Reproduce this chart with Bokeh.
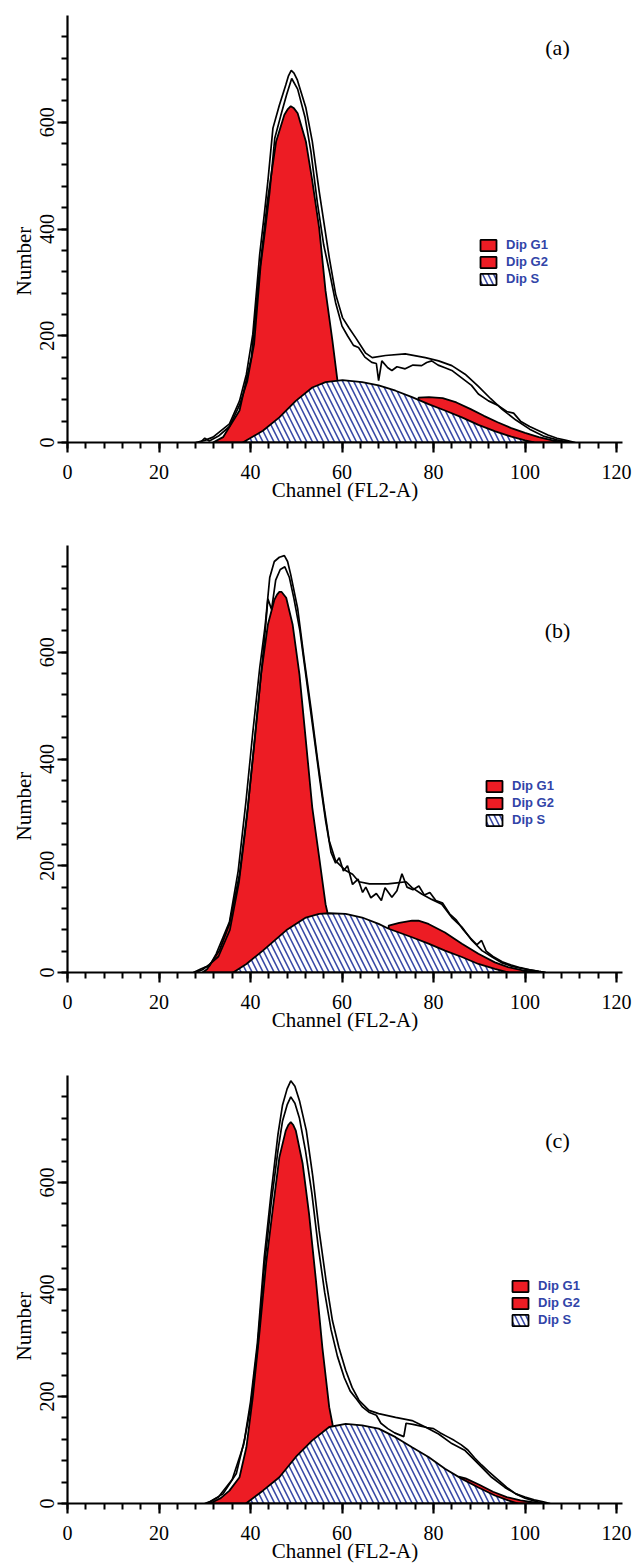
from bokeh.plotting import figure
from bokeh.layouts import column
from bokeh.models import FixedTicker, Legend, LegendItem, Label, Title
from bokeh.embed import file_html
from bokeh.resources import INLINE

# ---------------- axis ticks / labels ----------------
X_MAJOR = [0, 20, 40, 60, 80, 100, 120]
X_MINOR = list(range(0, 121, 4))
Y_MAJOR = [0, 200, 400, 600]
Y_MINOR = list(range(0, 761, 40))
LEGEND_LABELS = ["Dip G1", "Dip G2", "Dip S"]
PANEL_TAGS = ["(a)", "(b)", "(c)"]
X_TITLE = "Channel (FL2-A)"
Y_TITLE = "Number"

# ---------------- panel (a) ----------------
A_G1_X = [31.8, 34.0, 37.6, 40.2, 41.9, 43.7, 45.6, 47.4, 48.1, 48.8, 49.5, 50.3, 52.1, 53.5, 55.0, 56.4, 57.9, 59.0, 60.5, 62.0]
A_G1_Y = [0, 10, 60, 160, 315, 452, 564, 614, 624, 630, 626, 617, 564, 490, 402, 284, 191, 116, 60, 0]
A_S_X = [38.3, 42.7, 46.3, 49.9, 53.5, 56.4, 60.1, 64.4, 68.0, 71.7, 75.3, 78.9, 82.5, 86.2, 89.8, 93.5, 97.0, 100.0, 102.0]
A_S_Y = [0, 22, 47, 78, 103, 113, 117, 113, 107, 97, 85, 72, 60, 47, 33, 21, 11, 4, 0]
A_G2_X = [76.7, 76.7, 79, 82, 85, 88, 91, 94, 97, 100, 103, 106, 109]
A_G2_Y = [0, 84, 85, 83, 75, 63, 50, 38, 27, 18, 10, 4, 0]
A_L1_X = [28, 30, 31.8, 35.4, 37.6, 39.1, 40.5, 42.0, 43.0, 43.8, 44.9, 46.3, 47.7, 48.3, 48.9, 49.5, 50.2, 52.1, 53.5, 55.0, 57.2,
          58.6, 60.1, 61.5, 63.0, 65.1, 66.6, 69.5, 73.8, 78.2, 81.1, 84.0, 86.9, 89.8, 92.5, 95, 98, 101, 104, 107, 110]
A_L1_Y = [0, 4, 10, 35, 78, 128, 203, 352, 427, 490, 589, 632, 670, 687, 697, 692, 680, 627, 564, 471, 347,
          278, 234, 215, 196, 168, 159, 163, 166, 159, 153, 144, 128, 105, 82, 62, 42, 25, 12, 5, 0]
A_L2_X = [29, 30, 31, 33, 35.4, 37.6, 39.3, 40.8, 42.2, 43.3, 44.2, 45.3, 46.6, 47.9, 49.0, 50.3, 51.9, 53.2, 54.6,
          56.0, 57.3, 58.6, 60.0, 61.2, 62.5, 63.6, 65.0, 66.5, 67.5, 68.0, 68.7, 70.0, 70.9, 72.0, 73.8, 75.5, 77.4,
          78.5, 79.6, 81.0, 82.5, 84.0, 86.0, 88.3, 89.8, 92, 94, 96, 97.5, 99, 101, 103, 105, 107, 109, 111]
A_L2_Y = [0, 8, 3, 12, 30, 70, 115, 185, 330, 405, 470, 570, 612, 652, 682, 662, 610, 545, 450,
          370, 318, 262, 218, 200, 182, 178, 160, 150, 148, 116, 153, 140, 135, 142, 138, 145, 144,
          150, 153, 145, 140, 135, 122, 107, 91, 78, 70, 58, 55, 40, 30, 22, 14, 8, 4, 0]

# ---------------- panel (b) ----------------
B_G1_X = [29.5, 30.5, 33.2, 35.4, 37.6, 39.4, 40.9, 42.3, 43.8, 45.2, 45.8, 46.3, 46.8, 47.8, 49.2, 50.7, 52.1, 53.5, 55.0, 56.4, 56.8, 58.5, 60.0]
B_G1_Y = [0, 6, 41, 91, 184, 309, 434, 558, 652, 698, 708, 713, 713, 702, 652, 558, 434, 309, 216, 128, 113, 50, 0]
B_S_X = [36.2, 39.1, 42.7, 47.8, 52.1, 55.0, 57.2, 60.8, 64.4, 68.0, 70.2, 75.3, 78.9, 82.5, 86.2, 89.8, 93.4, 96.5]
B_S_Y = [0, 16, 41, 79, 103, 110, 111, 110, 103, 91, 82, 66, 54, 41, 29, 16, 7, 0]
B_G2_X = [70.2, 70.2, 72.5, 75.3, 76.7, 78.9, 82.5, 86.2, 89.8, 93.4, 96.3, 99.5, 103]
B_G2_Y = [0, 88, 93, 97, 97, 91, 75, 54, 35, 19, 10, 4, 0]
B_L1_X = [27.5, 29, 30, 31, 32.5, 35.4, 37.3, 39.0, 40.5, 42.0, 43.2, 44.2, 45.2, 46.3, 47.4, 48.1, 48.8, 50.3, 51.7,
          53.2, 54.6, 56.1, 57.2, 58.6, 60.8, 62.3, 63.7, 66, 68, 70, 72, 74, 75.3, 77.4, 79.6, 81.8, 84.0, 86.2, 88.4,
          90.6, 92.8, 95.0, 97, 99, 101, 103, 104.5]
B_L1_Y = [0, 6, 10, 12, 35, 95, 190, 320, 450, 570, 650, 740, 770, 778, 781, 770, 745, 682, 589,
          496, 402, 309, 247, 209, 191, 184, 170, 166, 166, 166, 168, 170, 159, 147, 137, 128, 103, 85, 60,
          41, 29, 18, 12, 8, 5, 2, 0]
B_L2_X = [28, 29.5, 31, 33, 35.5, 37.5, 39.2, 40.7, 42.1, 43.0, 43.8, 44.6, 45.5, 46.5, 47.5, 48.5, 49.5, 50.8, 52.2,
          53.6, 55.0, 56.4, 57.6, 58.6, 59.4, 60.3, 61.2, 62.3, 63.5, 64.5, 65.2, 66.3, 67.5, 68.6, 69.4, 70.9, 72.0,
          73.1, 74.2, 75.5, 76.8, 78, 79.2, 80.5, 82, 83.5, 85, 86.5, 88, 89.5, 90.5, 91.5, 93, 95, 97, 99, 101, 103, 104.5]
B_L2_Y = [0, 5, 15, 30, 80, 170, 290, 420, 540, 620, 700, 680, 735, 755, 760, 740, 700, 640, 550,
          460, 370, 285, 225, 205, 215, 190, 200, 165, 175, 150, 160, 140, 148, 135, 159, 141, 153,
          185, 160, 155, 162, 145, 150, 135, 130, 110, 98, 80, 65, 52, 60, 40, 30, 20, 14, 9, 5, 2, 0]

# ---------------- panel (c) ----------------
C_G1_X = [31.0, 31.8, 33.5, 35.4, 37.6, 39.1, 40.5, 42.0, 43.4, 44.9, 46.3, 47.7, 48.3, 48.8, 49.3, 49.9, 51.4, 52.8, 54.3, 55.7, 57.2, 57.9, 59.5, 61.0]
C_G1_Y = [0, 3, 10, 24, 49, 105, 199, 323, 448, 553, 647, 697, 708, 713, 708, 697, 635, 541, 417, 292, 180, 149, 70, 0]
C_S_X = [39.0, 42.7, 46.3, 49.9, 53.5, 57.2, 60.8, 64.4, 68.0, 71.7, 75.3, 78.9, 82.5, 86.2, 89.8, 93.4, 96.3, 98.5]
C_S_Y = [0, 24, 49, 87, 118, 143, 149, 146, 140, 124, 105, 87, 65, 46, 30, 15, 6, 0]
C_G2_X = [85.5, 85.5, 87, 90, 93, 96, 99, 102, 104]
C_G2_Y = [0, 50, 47, 35, 22, 12, 6, 2, 0]
C_L1_X = [30, 31, 34, 36.9, 38.7, 40, 41.5, 43, 44.5, 46, 47, 48, 48.8, 49.7, 50.7, 52.2, 53.6, 55, 56.5, 57.9, 59.3,
          60.8, 62.2, 63.7, 65.9, 68, 71.7, 75.3, 78.2, 81.1, 84, 86.9, 89.8, 92.7, 95.6, 98, 100, 102, 104, 105.5]
C_L1_Y = [0, 3, 18, 56, 120, 190, 300, 460, 580, 690, 745, 775, 790, 780, 753, 697, 612, 510, 417, 342, 292,
          249, 217, 193, 174, 168, 161, 155, 143, 130, 112, 99, 74, 49, 30, 18, 12, 7, 3, 0]
C_L2_X = [30.5, 33, 36, 38.5, 40, 41.5, 43, 44.5, 46, 47, 48, 48.8, 49.7, 50.7, 52, 53.4, 54.8, 56.2, 57.6, 59, 60.5,
          61.8, 63.2, 64.5, 66, 67.5, 68.5, 70, 71.5, 73.5, 74.0, 75.5, 77, 78.5, 80, 81.5, 83, 84.5, 86, 87.5, 89,
          90.5, 92, 94, 96, 98, 100, 102, 104]
C_L2_Y = [0, 12, 45, 110, 180, 290, 440, 560, 660, 715, 745, 760, 748, 720, 660, 580, 480, 395, 325, 275, 235,
          210, 195, 180, 170, 165, 150, 140, 132, 125, 150, 148, 145, 142, 140, 132, 125, 118, 110, 100, 85,
          72, 60, 45, 30, 18, 10, 5, 0]

RED = "#ed1c24"
HATCH = "#3a4aa6"
LEGEND_TEXT = "#3144a8"
SERIF = "Liberation Serif"


def make_panel(tag, g1, g2, s, l1, l2, height, top, bottom, legend_loc, tag_loc, ylab_offset):
    p = figure(width=632, height=height, x_range=(0, 121.3), y_range=(0, 800),
               output_backend="svg", toolbar_location=None,
               min_border_left=67, min_border_right=10,
               min_border_top=top, min_border_bottom=bottom)
    p.outline_line_color = None
    p.xgrid.visible = False
    p.ygrid.visible = False
    p.background_fill_color = "white"
    p.border_fill_color = "white"

    r_g1 = p.patch(g1[0], g1[1], fill_color=RED, line_color="black", line_width=1.8)
    r_g2 = p.patch(g2[0], g2[1], fill_color=RED, line_color="black", line_width=1.8)
    r_s = p.patch(s[0], s[1], fill_color="white", line_color="black", line_width=1.8,
                  hatch_pattern="left_diagonal_line", hatch_color=HATCH,
                  hatch_weight=1.6, hatch_scale=11)
    p.line(l1[0], l1[1], line_color="black", line_width=1.7)
    p.line(l2[0], l2[1], line_color="black", line_width=1.7)

    p.xaxis.ticker = FixedTicker(ticks=X_MAJOR, minor_ticks=X_MINOR)
    p.yaxis.ticker = FixedTicker(ticks=Y_MAJOR, minor_ticks=Y_MINOR)
    for ax in (p.xaxis[0], p.yaxis[0]):
        ax.axis_line_width = 2.2
        ax.axis_line_color = "black"
        ax.major_tick_line_width = 2.2
        ax.minor_tick_line_width = 2
        ax.major_tick_out = 10
        ax.major_tick_in = 0
        ax.minor_tick_out = 6
        ax.minor_tick_in = 0
        ax.major_label_text_font = SERIF
        ax.major_label_text_font_size = "20px"
        ax.major_label_text_color = "black"
    p.xaxis.major_label_standoff = 12
    p.yaxis.major_label_standoff = 4
    p.yaxis.major_label_orientation = "vertical"

    # x title as the axis label
    p.xaxis.axis_label = X_TITLE
    p.xaxis.axis_label_text_font = SERIF
    p.xaxis.axis_label_text_font_size = "21px"
    p.xaxis.axis_label_text_font_style = "normal"
    p.xaxis.axis_label_text_color = "black"
    p.xaxis.axis_label_standoff = -4

    # y title as a side title, anchored from the bottom of the frame
    p.add_layout(Title(text=Y_TITLE, align="left", offset=ylab_offset, standoff=2,
                       text_font=SERIF, text_font_size="21px", text_font_style="normal",
                       text_color="black"), "left")

    legend = Legend(items=[LegendItem(label=LEGEND_LABELS[0], renderers=[r_g1]),
                           LegendItem(label=LEGEND_LABELS[1], renderers=[r_g2]),
                           LegendItem(label=LEGEND_LABELS[2], renderers=[r_s])],
                    location=legend_loc, glyph_width=20, glyph_height=14, label_height=14,
                    spacing=2, padding=0, margin=0, label_standoff=8,
                    label_text_font="Liberation Sans", label_text_font_style="bold",
                    label_text_font_size="13px", label_text_color=LEGEND_TEXT,
                    border_line_color=None, background_fill_alpha=0)
    p.add_layout(legend)

    p.add_layout(Label(x=tag_loc[0], y=tag_loc[1], x_units="screen", y_units="screen", text=tag,
                       text_font=SERIF, text_font_size="22px", text_align="center",
                       text_baseline="middle", text_color="black"))
    return p


pa = make_panel(PANEL_TAGS[0], (A_G1_X, A_G1_Y), (A_G2_X, A_G2_Y), (A_S_X, A_S_Y),
                (A_L1_X, A_L1_Y), (A_L2_X, A_L2_Y), 530, 15, 88, (411, 156), (490, 395), 147)
pb = make_panel(PANEL_TAGS[1], (B_G1_X, B_G1_Y), (B_G2_X, B_G2_Y), (B_S_X, B_S_Y),
                (B_L1_X, B_L1_Y), (B_L2_X, B_L2_Y), 530, 15, 88, (417, 145), (490, 342), 132)
pc = make_panel(PANEL_TAGS[2], (C_G1_X, C_G1_Y), (C_G2_X, C_G2_Y), (C_S_X, C_S_Y),
                (C_L1_X, C_L1_Y), (C_L2_X, C_L2_Y), 505, 15, 62, (443, 176), (490, 363), 143)

layout = column(pa, pb, pc, spacing=0)
open("out.html", "w").write(file_html(layout, INLINE))
